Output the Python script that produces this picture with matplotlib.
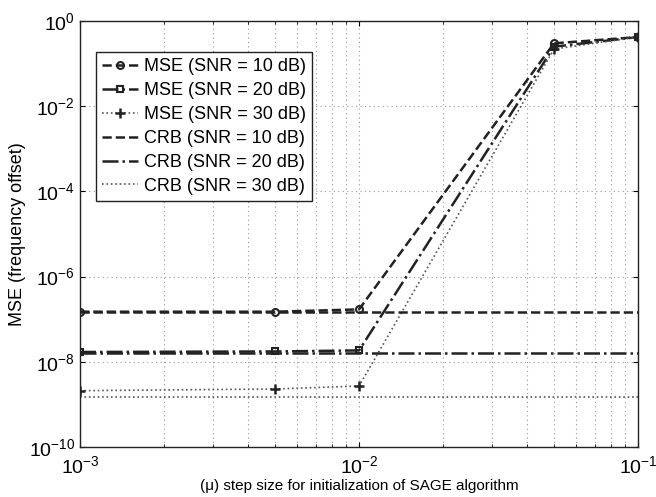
import numpy as np
import matplotlib.pyplot as plt
from matplotlib.ticker import LogLocator, NullFormatter

plt.rcParams['font.family'] = ['Liberation Sans', 'DejaVu Sans']
plt.rcParams['mathtext.fontset'] = 'custom'
plt.rcParams['mathtext.rm'] = 'Liberation Sans'

# step sizes
mu = [1e-3, 5e-3, 1e-2, 5e-2, 1e-1]

# MSE curves
mse_10 = [1.5e-7, 1.5e-7, 1.7e-7, 0.30, 0.42]
mse_20 = [1.7e-8, 1.75e-8, 1.85e-8, 0.25, 0.42]
mse_30 = [2.1e-9, 2.3e-9, 2.7e-9, 0.22, 0.42]

# CRB levels
crb_10 = 1.5e-7
crb_20 = 1.65e-8
crb_30 = 1.5e-9

fig = plt.figure(figsize=(6.56, 4.97), dpi=100)
ax = fig.add_axes([0.122, 0.1006, 0.8506, 0.8571])

c = '#222222'
ax.plot(mu, mse_10, '--', color=c, lw=1.8, marker='o', ms=5, mfc='none', mew=1.5,
        label='MSE (SNR = 10 dB)')
ax.plot(mu, mse_20, '-.', color=c, lw=1.8, marker='s', ms=5, mfc='none', mew=1.5,
        label='MSE (SNR = 20 dB)')
ax.plot(mu, mse_30, ':', color='#555555', lw=1.2, marker='+', ms=7, mew=1.8, mec=c,
        label='MSE (SNR = 30 dB)')
ax.plot([mu[0], mu[-1]], [crb_10, crb_10], '--', color=c, lw=1.8,
        label='CRB (SNR = 10 dB)')
ax.plot([mu[0], mu[-1]], [crb_20, crb_20], '-.', color=c, lw=1.8,
        label='CRB (SNR = 20 dB)')
ax.plot([mu[0], mu[-1]], [crb_30, crb_30], ':', color='#555555', lw=1.2,
        label='CRB (SNR = 30 dB)')

ax.set_xscale('log')
ax.set_yscale('log')
ax.set_xlim(1e-3, 1e-1)
ax.set_ylim(1e-10, 1e0)
ax.set_yticks([10.0**k for k in range(-10, 1, 2)])
ax.yaxis.set_minor_locator(plt.NullLocator())
ax.xaxis.set_minor_locator(LogLocator(base=10, subs=np.arange(2, 10)))
ax.xaxis.set_minor_formatter(NullFormatter())

ax.grid(True, which='major', axis='both', ls=(0, (1, 3)), color='#999999', lw=0.8)
ax.grid(True, which='minor', axis='x', ls=(0, (1, 3)), color='#999999', lw=0.8)
ax.tick_params(which='both', direction='in', top=True, right=True, labelsize=14)
ax.tick_params(axis='x', pad=6)
for s in ax.spines.values():
    s.set_linewidth(1.0)
    s.set_color('#222222')

ax.set_xlabel('(μ) step size for initialization of SAGE algorithm', fontsize=11, labelpad=1)
ax.set_ylabel('MSE (frequency offset)', fontsize=13, labelpad=2)

leg = ax.legend(loc='upper left', bbox_to_anchor=(0.0287, 0.927), borderaxespad=0,
                fontsize=13, fancybox=False, framealpha=1, edgecolor='#222222',
                handlelength=2.0, handletextpad=0.3, labelspacing=0.38, borderpad=0.35)
leg.get_frame().set_linewidth(1.0)

fig.savefig('out.png', dpi=100)
